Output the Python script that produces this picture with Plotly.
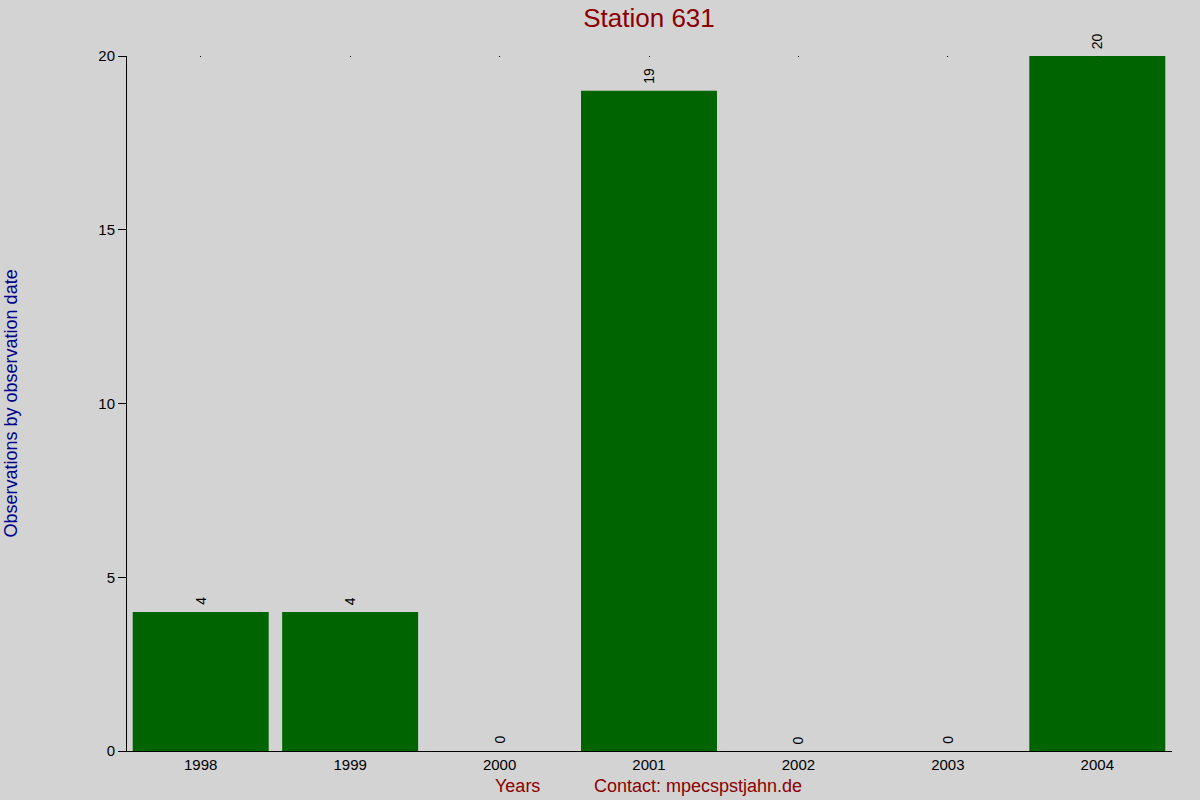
import plotly.graph_objects as go

# data
years = ["1998", "1999", "2000", "2001", "2002", "2003", "2004"]
observations = [4, 4, 0, 19, 0, 0, 20]
y_ticks = [0, 5, 10, 15, 20]

station = "Station 631"
font_family = "Liberation Sans, Arial, sans-serif"

# plot area: x 118..1172 px, y 56..751 px
left, right, top, bottom = 118, 28, 56, 49
plot_w = 1200 - left - right
plot_h = 800 - top - bottom
axis_offset = 8  # y axis sits 8px right of the plot edge
x_lo = -0.5 - axis_offset / ((1172 - 126) / len(years))
x_range = [x_lo, len(years) - 0.5]

fig = go.Figure()

fig.add_trace(go.Bar(
    x=years,
    y=observations,
    marker=dict(color="#006400", line=dict(width=0)),
    cliponaxis=False,
    hoverinfo="x+y",
))
# empty trace so the top axis (small dots at each year) gets drawn
fig.add_trace(go.Scatter(x=[], y=[], xaxis="x2", yaxis="y", showlegend=False))

# value labels above bars, rotated (category index used for x)
for i, val in enumerate(observations):
    fig.add_annotation(
        x=i, y=val, text=str(val),
        xref="x", yref="y",
        textangle=-90, showarrow=False,
        xanchor="center", yanchor="bottom", yshift=5,
        font=dict(size=14, color="black"),
    )

fig.update_layout(
    width=1200,
    height=800,
    paper_bgcolor="#d3d3d3",
    plot_bgcolor="#d3d3d3",
    margin=dict(l=left, r=right, t=top, b=bottom),
    bargap=0.09,
    showlegend=False,
    font=dict(family=font_family, size=15, color="black"),
    title=dict(
        text=station,
        x=649 / 1200,
        xanchor="center",
        xref="container",
        y=1 - 18 / 800,
        yanchor="middle",
        font=dict(size=26, color="#8b0000", family=font_family),
    ),
    xaxis=dict(
        type="category",
        categoryorder="array",
        categoryarray=years,
        range=x_range,
        showgrid=False,
        zeroline=False,
        showline=True,
        linecolor="black",
        linewidth=1,
        ticks="",
        tickfont=dict(size=15),
        fixedrange=True,
    ),
    xaxis2=dict(
        type="linear",
        overlaying="x",
        side="top",
        anchor="y",
        range=x_range,
        tickmode="array",
        tickvals=list(range(len(years))),
        ticks="inside",
        ticklen=1,
        tickwidth=1,
        tickcolor="black",
        showticklabels=False,
        showgrid=False,
        zeroline=False,
        showline=False,
        fixedrange=True,
    ),
    yaxis=dict(
        range=[0, max(y_ticks)],
        tickmode="array",
        tickvals=y_ticks,
        anchor="free",
        position=axis_offset / plot_w,
        showgrid=False,
        zeroline=False,
        showline=True,
        linecolor="black",
        linewidth=1,
        ticks="outside",
        ticklen=8,
        tickcolor="black",
        tickfont=dict(size=15),
        fixedrange=True,
    ),
)

# axis captions
fig.add_annotation(
    text="Observations by observation date",
    xref="paper", yref="paper",
    x=(10 - left) / plot_w, y=0.5,
    xanchor="center", yanchor="middle",
    textangle=-90, showarrow=False,
    font=dict(size=18, color="#00008b"),
)
fig.add_annotation(
    text="Years",
    xref="paper", yref="paper",
    x=(517 - left) / plot_w, y=(751 - 786) / plot_h,
    xanchor="center", yanchor="middle", showarrow=False,
    font=dict(size=18, color="#8b0000"),
)
fig.add_annotation(
    text="Contact: mpecspstjahn.de",
    xref="paper", yref="paper",
    x=(697.5 - left) / plot_w, y=(751 - 786) / plot_h,
    xanchor="center", yanchor="middle", showarrow=False,
    font=dict(size=18, color="#8b0000"),
)

fig.write_html(
    "out.html",
    config={"displayModeBar": False},
    post_script="document.body.style.margin='0';",
)
